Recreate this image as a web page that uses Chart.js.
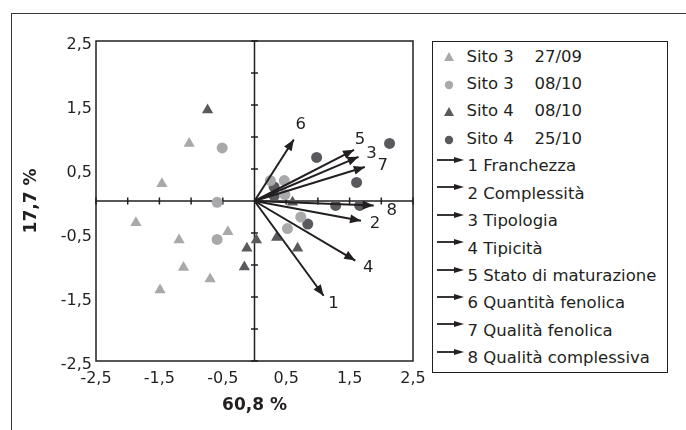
<!DOCTYPE html>
<html>
<head>
<meta charset="utf-8">
<script src="https://cdn.jsdelivr.net/npm/chart.js"></script>
<style>
  html, body { margin: 0; padding: 0; background: #fff; }
  body { width: 686px; height: 430px; position: relative; overflow: hidden; font-family: 'DejaVu Sans', Verdana, sans-serif; color: #231f20; }
  #frame { position: absolute; left: 11px; top: 13px; width: 700px; height: 450px; border: 1.5px solid #3b3738; box-sizing: border-box; }
  #chart { position: absolute; left: 0; top: 0; }
  #legend { position: absolute; left: 432px; top: 41px; width: 236px; height: 332px; border: 1.5px solid #231f20; box-sizing: border-box; background: #fff; padding-top: 0.5px; }
  .row { position: relative; height: 27.45px; font-size: 16.5px; line-height: 27.45px; white-space: nowrap; }
  .row .mk { position: absolute; left: 9.5px; top: 8.7px; }
  .row .txt { position: absolute; left: 33.5px; }
  .row .date { position: absolute; left: 101.5px; }
  .row .arr { position: absolute; left: 3.5px; top: 3.5px; }
  .row .vtxt { position: absolute; left: 34.5px; }
</style>
</head>
<body>
<div id="frame"></div>
<canvas id="chart" width="686" height="430"></canvas>
<div id="legend"></div>
<script>
// axis ticks
const tickValues = [-2.5, -1.5, -0.5, 0.5, 1.5, 2.5];
const axisMarks = [-2.5, -2, -1.5, -1, -0.5, 0.5, 1, 1.5, 2, 2.5];

// sample groups
const seriesSite = ['Sito 3', 'Sito 3', 'Sito 4', 'Sito 4'];
const seriesDate = ['27/09', '08/10', '08/10', '25/10'];

const sito3_2709_x = [-1.03, -1.46, -1.87, -1.19, -0.42, -1.12, -0.70, -1.49];
const sito3_2709_y = [0.90, 0.27, -0.34, -0.61, -0.48, -1.04, -1.22, -1.39];
const sito3_0810_x = [-0.51, -0.59, -0.59, 0.25, 0.47, 0.48, 0.73, 0.52];
const sito3_0810_y = [0.83, -0.02, -0.60, 0.32, 0.32, 0.10, -0.25, -0.43];
const sito4_0810_x = [-0.74, -0.12, 0.03, -0.16, 0.35, 0.68, 0.60];
const sito4_0810_y = [1.42, -0.74, -0.61, -1.03, -0.57, -0.74, -0.02];
const sito4_2510_x = [2.13, 0.98, 1.61, 0.31, 0.31, 1.28, 1.66, 0.84];
const sito4_2510_y = [0.90, 0.68, 0.29, 0.22, 0.08, -0.07, -0.07, -0.36];

// loading vectors
const varNames = ['Franchezza', 'Complessità', 'Tipologia', 'Tipicità',
  'Stato di maturazione', 'Quantità fenolica', 'Qualità fenolica', 'Qualità complessiva'];
const vecX = [1.09, 1.68, 1.64, 1.59, 1.57, 0.62, 1.74, 1.88];
const vecY = [-1.48, -0.31, 0.69, -0.93, 0.80, 0.96, 0.53, -0.07];

// styles
const ink = '#231f20';
const lightGrey = '#a9a9ac';
const darkGrey = '#5a5a5e';
const seriesStyle = [
  { color: lightGrey, shape: 'triangle' },
  { color: lightGrey, shape: 'circle' },
  { color: darkGrey, shape: 'triangle' },
  { color: darkGrey, shape: 'circle' }
];
// pixel offset of each vector number from its arrow tip
const labelNudge = [[10, 8], [14, 3], [13, -3], [13, 7], [6, -10], [7, -15], [18, -1], [18, 5]];

const fmt = v => Number(v).toFixed(1).replace('.', ',');
const pts = (xs, ys) => xs.map((x, i) => ({ x, y: ys[i] }));

const groups = [
  pts(sito3_2709_x, sito3_2709_y),
  pts(sito3_0810_x, sito3_0810_y),
  pts(sito4_0810_x, sito4_0810_y),
  pts(sito4_2510_x, sito4_2510_y)
];

const datasets = [];
varNames.forEach((name, i) => {
  datasets.push({
    label: (i + 1) + ' ' + name,
    data: [{ x: 0, y: 0 }, { x: vecX[i], y: vecY[i] }],
    showLine: true,
    borderColor: ink,
    borderWidth: 2,
    pointRadius: 0,
    isVector: true,
    order: 0
  });
});
groups.forEach((data, i) => {
  const st = seriesStyle[i];
  datasets.push({
    label: seriesSite[i] + ' ' + seriesDate[i],
    data,
    pointStyle: st.shape,
    pointRadius: st.shape === 'triangle' ? 6.5 : 5.5,
    backgroundColor: st.color,
    borderWidth: 0,
    order: 1
  });
});

const biplotDecor = {
  id: 'biplotDecor',
  beforeDatasetsDraw(chart) {
    const { ctx, chartArea: a, scales: { x, y } } = chart;
    const x0 = x.getPixelForValue(0), y0 = y.getPixelForValue(0);
    ctx.save();
    ctx.strokeStyle = ink;
    ctx.lineWidth = 1.5;
    ctx.beginPath();
    ctx.moveTo(a.left, y0); ctx.lineTo(a.right, y0);
    ctx.moveTo(x0, a.top); ctx.lineTo(x0, a.bottom);
    axisMarks.forEach(v => {
      const px = x.getPixelForValue(v), py = y.getPixelForValue(v);
      ctx.moveTo(px, y0 - 3.5); ctx.lineTo(px, y0 + 3.5);
      ctx.moveTo(x0 - 3.5, py); ctx.lineTo(x0 + 3.5, py);
    });
    ctx.stroke();
    ctx.strokeRect(a.left, a.top, a.width, a.height);
    ctx.restore();
  },
  afterDatasetsDraw(chart) {
    const { ctx } = chart;
    ctx.save();
    ctx.fillStyle = ink;
    ctx.font = '16.5px "DejaVu Sans"';
    ctx.textAlign = 'center';
    ctx.textBaseline = 'middle';
    let k = 0;
    chart.data.datasets.forEach((ds, di) => {
      if (!ds.isVector) return;
      const meta = chart.getDatasetMeta(di);
      const p0 = meta.data[0], p1 = meta.data[1];
      const ang = Math.atan2(p1.y - p0.y, p1.x - p0.x);
      const len = 11, half = 4.5;
      ctx.beginPath();
      ctx.moveTo(p1.x, p1.y);
      ctx.lineTo(p1.x - len * Math.cos(ang) + half * Math.sin(ang), p1.y - len * Math.sin(ang) - half * Math.cos(ang));
      ctx.lineTo(p1.x - len * Math.cos(ang) - half * Math.sin(ang), p1.y - len * Math.sin(ang) + half * Math.cos(ang));
      ctx.closePath();
      ctx.fill();
      const n = labelNudge[k];
      ctx.fillText(String(k + 1), p1.x + n[0], p1.y + n[1]);
      k++;
    });
    ctx.restore();
  }
};

Chart.defaults.font.family = '"DejaVu Sans", Verdana, sans-serif';
Chart.defaults.font.size = 16;
Chart.defaults.color = ink;

new Chart(document.getElementById('chart').getContext('2d'), {
  type: 'scatter',
  data: { datasets },
  options: {
    responsive: false,
    animation: false,
    events: [],
    layout: { padding: { left: 0, top: 41, right: 273, bottom: 0 } },
    plugins: { legend: { display: false }, tooltip: { enabled: false } },
    scales: {
      x: {
        type: 'linear', min: -2.5, max: 2.5,
        grid: { display: false, drawTicks: false },
        border: { display: false },
        afterBuildTicks: s => { s.ticks = tickValues.map(v => ({ value: v })); },
        afterFit: s => { s.height = 69; },
        ticks: { padding: 8, maxRotation: 0, autoSkip: false, callback: fmt },
        title: { display: true, text: '60,8 %', font: { size: 17, weight: 'bold' }, padding: { top: 0, bottom: 14 } }
      },
      y: {
        type: 'linear', min: -2.5, max: 2.5,
        grid: { display: false, drawTicks: false },
        border: { display: false },
        afterBuildTicks: s => { s.ticks = tickValues.map(v => ({ value: v })); },
        afterFit: s => { s.width = 96; },
        ticks: { padding: 4, labelOffset: 4, autoSkip: false, callback: fmt },
        title: { display: true, text: '17,7 %', font: { size: 17, weight: 'bold' }, padding: { top: 21, bottom: 0 } }
      }
    }
  },
  plugins: [biplotDecor]
});

// legend
const legend = document.getElementById('legend');
seriesSite.forEach((site, i) => {
  const st = seriesStyle[i];
  const shape = st.shape === 'triangle'
    ? `<polygon points="6,1 11,10 1,10" fill="${st.color}"/>`
    : `<circle cx="6" cy="6" r="4.2" fill="${st.color}"/>`;
  legend.insertAdjacentHTML('beforeend',
    `<div class="row"><svg class="mk" width="12" height="12">${shape}</svg>` +
    `<span class="txt">${site}</span><span class="date">${seriesDate[i]}</span></div>`);
});
varNames.forEach((name, i) => {
  legend.insertAdjacentHTML('beforeend',
    `<div class="row"><svg class="arr" width="28" height="8">` +
    `<line x1="0" y1="4" x2="20" y2="4" stroke="${ink}" stroke-width="1.8"/>` +
    `<polygon points="17,1 27,4 17,7" fill="${ink}"/></svg>` +
    `<span class="vtxt">${i + 1} ${name}</span></div>`);
});
</script>
</body>
</html>
